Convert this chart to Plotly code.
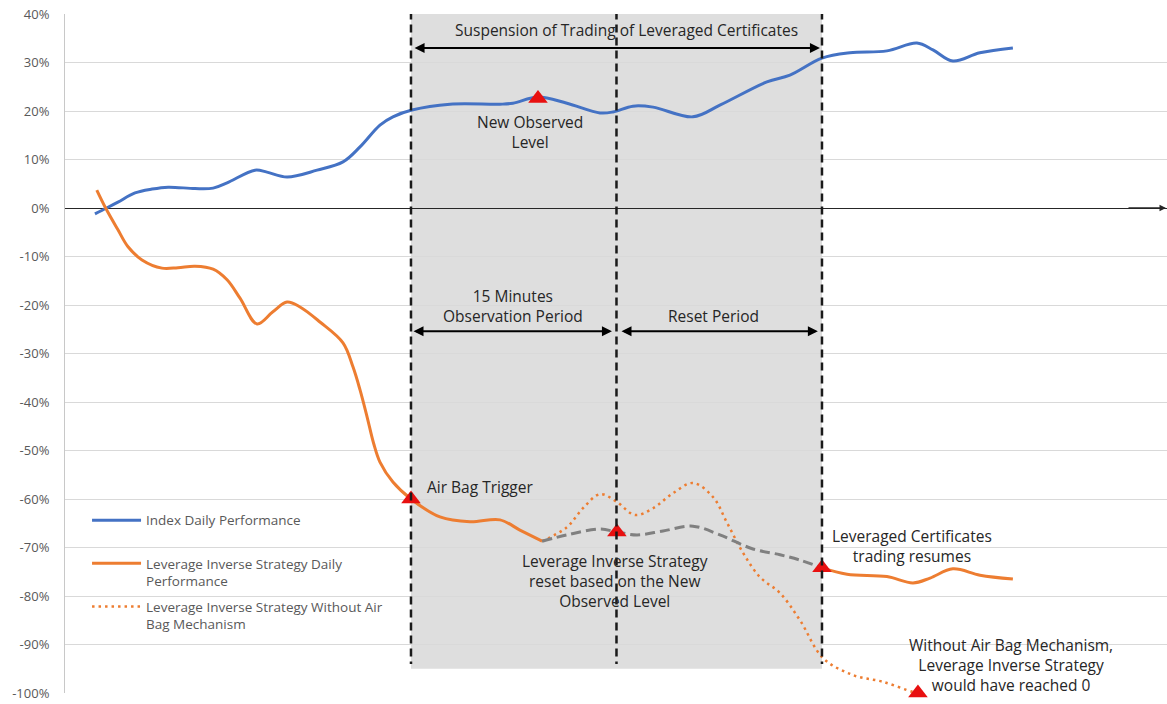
import plotly.graph_objects as go

# ---- data (x = time step along the trading session, y = performance in %) ----
idx_t = [0.62, 1.19, 1.74, 2.57, 3.40, 4.18, 5.49, 6.37, 7.05, 8.41, 8.99, 9.97, 11.43, 12.69, 13.52,
         14.49, 15.12, 16.05, 17.90, 20.33, 20.96, 22.18, 23.59, 25.20, 25.83, 26.80, 27.78, 29.72,
         31.03, 33.32, 34.44, 36.00, 37.36, 39.16, 40.62, 41.40, 42.37, 43.68, 45.29]
idx_v = [-1.2, 0.0, 1.2, 3.1, 3.9, 4.3, 4.0, 4.1, 5.2, 7.8, 7.4, 6.4, 7.8, 9.5, 12.6,
         17.1, 18.8, 20.2, 21.4, 21.4, 21.6, 22.9, 21.6, 19.6, 19.8, 21.0, 20.8, 18.8,
         21.2, 26.0, 27.4, 30.9, 32.0, 32.4, 34.0, 32.6, 30.3, 32.0, 33.0]

lev_t = [0.71, 1.14, 1.74, 2.23, 2.91, 3.88, 4.66, 5.49, 6.37, 7.05, 7.68, 8.51, 9.28, 9.97, 10.60,
         11.57, 12.69, 13.18, 13.52, 13.86, 14.18, 14.49, 15.12, 16.00, 17.41, 18.87, 20.33, 21.30,
         22.38,
         None,
         36.00, 37.22, 39.16, 40.43, 41.26, 42.37, 43.69, 45.29]
lev_v = [3.7, 0.0, -4.5, -8.0, -10.7, -12.4, -12.3, -12.0, -12.6, -14.8, -18.6, -23.9, -21.4, -19.4, -20.4,
         -23.5, -27.8, -32.8, -37.5, -43.0, -48.5, -52.4, -56.5, -60.0, -63.7, -64.7, -64.3, -66.4,
         -68.7,
         None,
         -74.2, -75.5, -76.0, -77.3, -76.3, -74.4, -75.7, -76.5]

reset_t = [22.38, 23.59, 25.20, 26.02, 27.00, 28.26, 29.72, 31.03, 32.64, 33.96, 34.93, 36.00]
reset_v = [-68.7, -67.4, -66.2, -66.8, -67.4, -66.6, -65.6, -67.4, -70.3, -71.5, -72.6, -74.2]

noab_t = [22.38, 23.59, 24.37, 25.20, 26.02, 26.90, 27.78, 28.75, 29.72, 30.70, 31.38, 32.16, 32.98,
          33.96, 34.93, 36.05, 37.51, 38.97, 40.43, 40.67]
noab_v = [-68.7, -65.8, -61.9, -59.0, -60.6, -63.3, -61.9, -58.8, -56.7, -59.6, -64.9, -71.1, -76.1,
          -79.4, -85.0, -92.8, -96.3, -97.7, -99.8, -100.0]

event_t = [16.00, 22.18, 26.02, 36.00, 40.67]
event_v = [-60.0, 22.6, -66.8, -74.2, -100.0]

phase_t = [16, 26, 36]          # trigger, reset start, trading resumes
y_ticks = list(range(-100, 41, 10))

BLUE = "#4472C4"
ORANGE = "#ED7D31"
TXT = "#262626"
FONT = "Open Sans"

fig = go.Figure()

fig.add_trace(go.Scatter(x=idx_t, y=idx_v, mode="lines", name="Index Daily Performance<br> ",
                         line=dict(color=BLUE, width=3, shape="spline"), legendgroup="a"))
fig.add_trace(go.Scatter(x=lev_t, y=lev_v, mode="lines",
                         name="Leverage Inverse Strategy Daily<br>Performance",
                         line=dict(color=ORANGE, width=3, shape="spline"), connectgaps=False,
                         legendgroup="b"))
fig.add_trace(go.Scatter(x=noab_t, y=noab_v, mode="lines",
                         name="Leverage Inverse Strategy Without Air<br>Bag Mechanism",
                         line=dict(color=ORANGE, width=2.5, shape="spline", dash="2.5px,4px"),
                         legendgroup="c"))
fig.add_trace(go.Scatter(x=reset_t, y=reset_v, mode="lines", showlegend=False,
                         line=dict(color="#808080", width=3, shape="spline", dash="10px,5px")))
fig.add_trace(go.Scatter(x=event_t, y=event_v, mode="markers", showlegend=False, cliponaxis=False,
                         marker=dict(symbol="triangle-up", size=17, color="#E81010")))

# shaded suspension window and phase separators
fig.add_shape(type="rect", x0=phase_t[0], x1=phase_t[2], y0=40, y1=-95, xref="x", yref="y",
              fillcolor="#DEDEDE", line_width=0, layer="below")
for xv in phase_t:
    fig.add_shape(type="line", x0=xv, x1=xv, y0=40.5, y1=-94, xref="x", yref="y",
                  line=dict(color="#1A1A1A", width=2.5, dash="8px,5px"))

def span_arrow(x0, x1, y):
    fig.add_annotation(x=x1, y=y, ax=x0, ay=y, xref="x", yref="y", axref="x", ayref="y",
                       showarrow=True, arrowside="end+start", arrowhead=2, arrowsize=1,
                       arrowwidth=2, arrowcolor="black", text="")

span_arrow(16.1, 35.9, 33.0)
span_arrow(16.05, 25.78, -25.4)
span_arrow(26.17, 35.8, -25.4)

def label(x, y, text, xanchor="center"):
    fig.add_annotation(x=x, y=y, xref="x", yref="y", text=text, showarrow=False,
                       xanchor=xanchor, yanchor="middle", align="center",
                       font=dict(family=FONT, size=15.5, color=TXT))

label(26.47, 36.7, "Suspension of Trading of Leveraged Certificates")
label(21.79, 15.6, "New Observed<br>Level")
label(20.94, -20.3, "15 Minutes<br>Observation Period")
label(30.70, -22.3, "Reset Period")
label(16.68, -57.5, "Air Bag Trigger", xanchor="left")
label(25.95, -77.0, "Leverage Inverse Strategy<br>reset based on the New<br>Observed Level")
label(40.38, -69.6, "Leveraged Certificates<br>trading resumes")
label(45.20, -94.2, "Without Air Bag Mechanism,<br>Leverage Inverse Strategy<br>would have reached 0")

# x-axis arrow at y = 0
fig.add_annotation(x=1, y=0, xref="paper", yref="y", ax=-40, ay=0, showarrow=True,
                   arrowhead=2, arrowsize=1, arrowwidth=1.3, arrowcolor="#262626", text="")

fig.update_layout(
    width=1167, height=704,
    margin=dict(l=65, r=0, t=14, b=11, autoexpand=False),
    paper_bgcolor="white", plot_bgcolor="white",
    font=dict(family=FONT, color="#595959"),
    showlegend=True,
    legend=dict(x=0.02, y=0.277, xanchor="left", yanchor="top", bgcolor="rgba(0,0,0,0)",
                font=dict(family=FONT, size=13.5, color="#595959"), valign="top",
                tracegroupgap=5, traceorder="grouped", itemwidth=49),
    xaxis=dict(range=[-0.837, 52.79], showgrid=False, zeroline=False, showticklabels=False,
               showline=False, ticks="", automargin=False),
    yaxis=dict(range=[-100, 40], tickvals=y_ticks, ticktext=[f"{v}%" for v in y_ticks],
               showgrid=True, gridcolor="#D9D9D9", gridwidth=1, automargin=False,
               zeroline=True, zerolinecolor="#262626", zerolinewidth=1.3,
               showline=True, linecolor="#C8C8C8", linewidth=1, ticks="",
               ticklabelstandoff=12, tickfont=dict(family=FONT, size=13, color="#595959")),
)

fig.write_html("out.html", config={"displayModeBar": False},
               post_script="document.body.style.margin='0';document.body.style.overflow='hidden';")
